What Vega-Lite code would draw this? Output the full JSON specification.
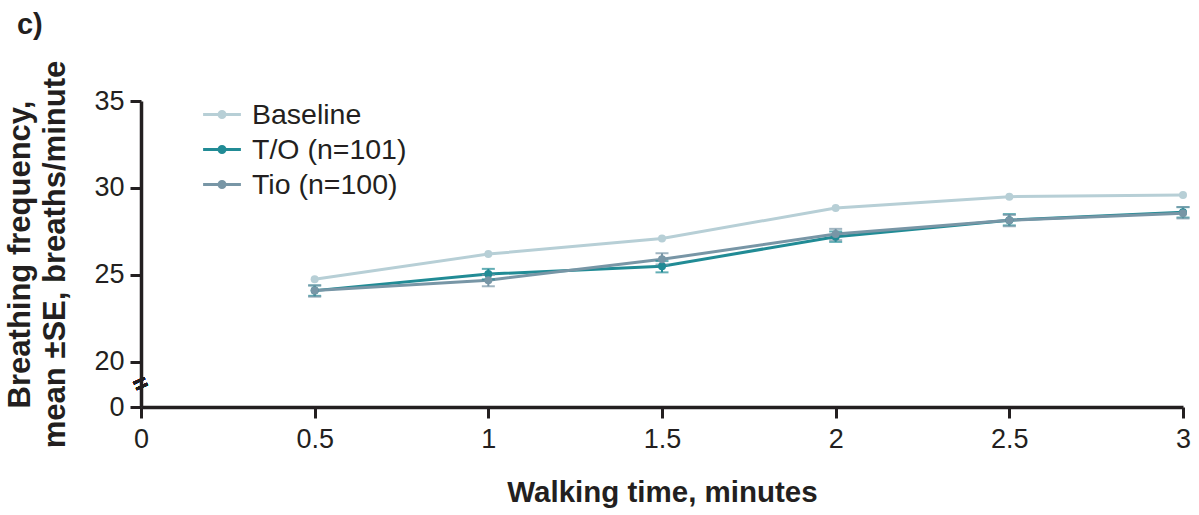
{
  "$schema": "https://vega.github.io/schema/vega-lite/v6.json",
  "autosize": "none",
  "width": 1042,
  "height": 306,
  "padding": {"left": 141, "top": 101, "right": 16, "bottom": 108},
  "background": "white",
  "config": {
    "view": {"stroke": null},
    "font": "Liberation Sans, Arial, sans-serif",
    "axis": {"grid": false, "labelFlush": false, "domainColor": "#231f20", "domainWidth": 3.5, "tickColor": "#231f20", "tickWidth": 3, "tickSize": 11, "labelColor": "#231f20", "labelFontSize": 27, "labelFont": "Liberation Sans", "titleFont": "Liberation Sans", "titleColor": "#231f20", "titleFontWeight": "bold"}
  },
  "title": {"text": "c)", "anchor": "start", "frame": "bounds", "fontSize": 29, "fontWeight": "bold", "color": "#231f20", "font": "Liberation Sans", "offset": 20, "dx": 12},
  "data": {"values": [
    {"t": 0.5, "group": "Baseline", "mean": 24.75},
    {"t": 1.0, "group": "Baseline", "mean": 26.2},
    {"t": 1.5, "group": "Baseline", "mean": 27.1},
    {"t": 2.0, "group": "Baseline", "mean": 28.85},
    {"t": 2.5, "group": "Baseline", "mean": 29.5},
    {"t": 3.0, "group": "Baseline", "mean": 29.6},
    {"t": 0.5, "group": "T/O (n=101)", "mean": 24.1, "lo": 23.8, "hi": 24.4},
    {"t": 1.0, "group": "T/O (n=101)", "mean": 25.05, "lo": 24.75, "hi": 25.35},
    {"t": 1.5, "group": "T/O (n=101)", "mean": 25.5, "lo": 25.15, "hi": 25.8},
    {"t": 2.0, "group": "T/O (n=101)", "mean": 27.2, "lo": 26.9, "hi": 27.5},
    {"t": 2.5, "group": "T/O (n=101)", "mean": 28.15, "lo": 27.85, "hi": 28.5},
    {"t": 3.0, "group": "T/O (n=101)", "mean": 28.6, "lo": 28.3, "hi": 28.9},
    {"t": 0.5, "group": "Tio (n=100)", "mean": 24.1, "lo": 23.75, "hi": 24.4},
    {"t": 1.0, "group": "Tio (n=100)", "mean": 24.7, "lo": 24.35, "hi": 25.0},
    {"t": 1.5, "group": "Tio (n=100)", "mean": 25.9, "lo": 25.6, "hi": 26.25},
    {"t": 2.0, "group": "Tio (n=100)", "mean": 27.35, "lo": 27.0, "hi": 27.65},
    {"t": 2.5, "group": "Tio (n=100)", "mean": 28.15, "lo": 27.8, "hi": 28.45},
    {"t": 3.0, "group": "Tio (n=100)", "mean": 28.55, "lo": 28.25, "hi": 28.9}
  ]},
  "encoding": {
    "x": {"field": "t", "type": "quantitative", "scale": {"domain": [0, 3], "nice": false, "zero": false},
      "axis": {"values": [0, 0.5, 1, 1.5, 2, 2.5, 3], "format": "~g", "labelPadding": 8, "title": "Walking time, minutes", "titleFontSize": 29.5, "titlePadding": 26}},
    "color": {"field": "group", "type": "nominal",
      "scale": {"domain": ["Baseline", "T/O (n=101)", "Tio (n=100)"], "range": ["#b7cfd6", "#218b95", "#7896a6"]},
      "legend": {"orient": "none", "legendX": 66, "legendY": -1.5, "title": null, "padding": 0,
        "symbolType": "M-1.4,0H1.4M0.22,0A0.22,0.22,0,1,1,-0.22,0A0.22,0.22,0,1,1,0.22,0Z",
        "symbolSize": 729, "symbolStrokeWidth": 3, "symbolOpacity": 1,
        "labelFontSize": 28.5, "labelFont": "Liberation Sans", "labelColor": "#231f20", "labelOffset": 15, "rowPadding": 5,
        "encode": {"symbols": {"update": {"fill": {"scale": "color", "field": "value"}, "opacity": {"value": 1}}}}}}
  },
  "layer": [
    {
      "mark": {"type": "line", "strokeWidth": 3},
      "encoding": {
        "y": {"field": "mean", "type": "quantitative",
          "scale": {"domain": [17.41, 35], "nice": false, "zero": false},
          "axis": {"values": [17.41, 20, 25, 30, 35], "labelExpr": "datum.value < 19 ? '0' : format(datum.value, 'd')", "labelPadding": 6,
            "title": ["Breathing frequency,", "mean ±SE, breaths/minute"], "titleFontSize": 31, "titleLineHeight": 35, "titlePadding": 22}}
      }
    },
    {
      "transform": [{"filter": "datum.lo != null"}],
      "mark": {"type": "rule", "strokeWidth": 2},
      "encoding": {"y": {"field": "lo", "type": "quantitative"}, "y2": {"field": "hi"}}
    },
    {
      "transform": [{"filter": "datum.lo != null"}],
      "mark": {"type": "tick", "orient": "horizontal", "size": 13, "thickness": 2},
      "encoding": {"y": {"field": "lo", "type": "quantitative"}}
    },
    {
      "transform": [{"filter": "datum.lo != null"}],
      "mark": {"type": "tick", "orient": "horizontal", "size": 13, "thickness": 2},
      "encoding": {"y": {"field": "hi", "type": "quantitative"}}
    },
    {
      "mark": {"type": "point", "filled": true, "opacity": 1, "size": 64},
      "encoding": {"y": {"field": "mean", "type": "quantitative"}}
    },
    {
      "mark": {"type": "text", "text": "=", "fontSize": 24, "fontWeight": "bold", "angle": -25, "color": "#231f20", "align": "center", "baseline": "middle", "font": "Liberation Sans"},
      "encoding": {"x": {"datum": 0}, "y": {"datum": 18.7}, "color": {"value": "#231f20"}}
    }
  ]
}
